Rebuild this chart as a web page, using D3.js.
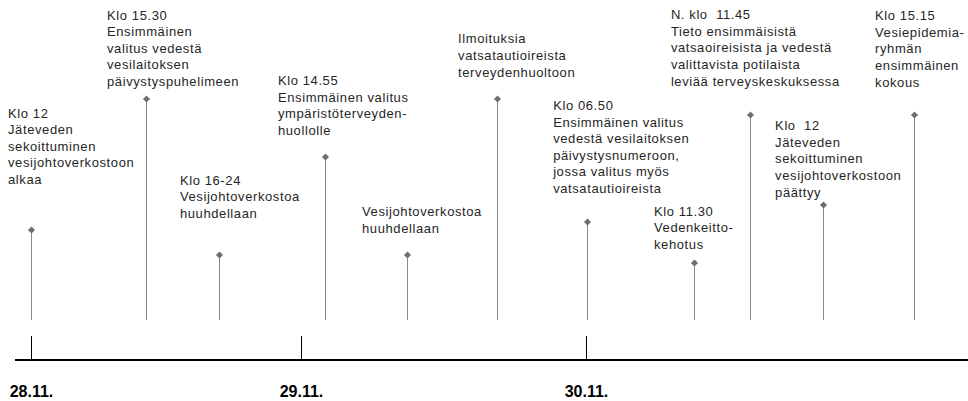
<!DOCTYPE html>
<html>
<head>
<meta charset="utf-8">
<script src="https://cdn.jsdelivr.net/npm/d3@7"></script>
<style>
  body { margin: 0; background: #fff; }
  svg { display: block; }
  .lbl { font-family: "Liberation Sans", Arial, sans-serif; font-size: 13px; letter-spacing: 0.6px; fill: #262626; }
  .day text { font-family: "Liberation Sans", Arial, sans-serif; font-size: 16px; font-weight: bold; fill: #000; }
</style>
</head>
<body>
<script>
var W = 968, H = 401;

// days on the axis (0 = 28.11.)
var dayTicks = [0, 1, 2];
var dayLabels = ['28.11.', '29.11.', '30.11.'];

// event position in days and stem height
var eventDays = [0, 0.426, 0.696, 1.084, 1.372, 1.688, 2.004, 2.379, 2.575, 2.832, 3.151];
var eventHeights = [90, 221, 65, 163, 65, 221, 98, 57, 205, 115, 205];
var eventTexts = [
  ['Klo 12', 'Jäteveden', 'sekoittuminen', 'vesijohtoverkostoon', 'alkaa'],
  ['Klo 15.30', 'Ensimmäinen', 'valitus vedestä', 'vesilaitoksen', 'päivystyspuhelimeen'],
  ['Klo 16-24', 'Vesijohtoverkostoa', 'huuhdellaan'],
  ['Klo 14.55', 'Ensimmäinen valitus', 'ympäristöterveyden-', 'huollolle'],
  ['Vesijohtoverkostoa', 'huuhdellaan'],
  ['Ilmoituksia', 'vatsatautioireista', 'terveydenhuoltoon'],
  ['Klo 06.50', 'Ensimmäinen valitus', 'vedestä vesilaitoksen', 'päivystysnumeroon,', 'jossa valitus myös', 'vatsatautioireista'],
  ['Klo 11.30', 'Vedenkeitto-', 'kehotus'],
  ['N. klo  11.45', 'Tieto ensimmäisistä', 'vatsaoireisista ja vedestä', 'valittavista potilaista', 'leviää terveyskeskuksessa'],
  ['Klo  12', 'Jäteveden', 'sekoittuminen', 'vesijohtoverkostoon', 'päättyy'],
  ['Klo 15.15', 'Vesiepidemia-', 'ryhmän', 'ensimmäinen', 'kokous']
];

// label placement relative to the stem top (layout only)
var labelDx = [-23, -39, -39, -47, -45, -39, -34, -40, -79, -48, -39];
var labelGap = [46, 13, 37, 22, 22, 22.5, 29, 14, 29.5, 8.5, 28.5];
var lineH = 16.6;

var x = d3.scaleLinear().domain([0, 1, 2]).range([31, 301, 586]);
var y = d3.scaleLinear().domain([0, 250]).range([320, 70]);
var axisY = 360;

var svg = d3.select('body').append('svg')
  .attr('width', W).attr('height', H);

var events = eventDays.map(function(d, i) {
  return { t: d, h: eventHeights[i], lines: eventTexts[i], dx: labelDx[i], gap: labelGap[i] };
});

// stems
svg.selectAll('line.stem').data(events).enter().append('line')
  .attr('class', 'stem')
  .attr('x1', function(d) { return Math.round(x(d.t)) + 0.5; })
  .attr('x2', function(d) { return Math.round(x(d.t)) + 0.5; })
  .attr('y1', y(0))
  .attr('y2', function(d) { return y(d.h); })
  .attr('stroke', '#8a8a8a').attr('stroke-width', 1);

// diamonds
svg.selectAll('path.dot').data(events).enter().append('path')
  .attr('class', 'dot')
  .attr('d', d3.symbol().type(d3.symbolDiamond2).size(32))
  .attr('transform', function(d) { return 'translate(' + (Math.round(x(d.t)) + 0.5) + ',' + y(d.h) + ')'; })
  .attr('fill', '#6e6e6e');

// labels
var lbl = svg.selectAll('text.lbl').data(events).enter().append('text')
  .attr('class', 'lbl')
  .attr('x', function(d) { return x(d.t) + d.dx; })
  .attr('y', function(d) { return y(d.h) - d.gap - (d.lines.length - 1) * lineH; })
  .attr('xml:space', 'preserve');
lbl.selectAll('tspan').data(function(d) { return d.lines.map(function(l) { return { l: l, x: x(d.t) + d.dx }; }); })
  .enter().append('tspan')
  .attr('x', function(d) { return d.x; })
  .attr('dy', function(d, i) { return i ? lineH : 0; })
  .text(function(d) { return d.l; });

// time axis
svg.append('line')
  .attr('x1', 15).attr('x2', W)
  .attr('y1', axisY).attr('y2', axisY)
  .attr('stroke', '#000').attr('stroke-width', 2);

var axis = d3.axisBottom(x)
  .tickValues(dayTicks)
  .tickFormat(function(d, i) { return dayLabels[i]; })
  .tickSize(-24).tickSizeOuter(0).tickPadding(26);

var g = svg.append('g').attr('class', 'day')
  .attr('transform', 'translate(0,' + axisY + ')')
  .call(axis);
g.select('.domain').remove();
g.selectAll('.tick line').attr('stroke', '#000');
</script>
</body>
</html>
